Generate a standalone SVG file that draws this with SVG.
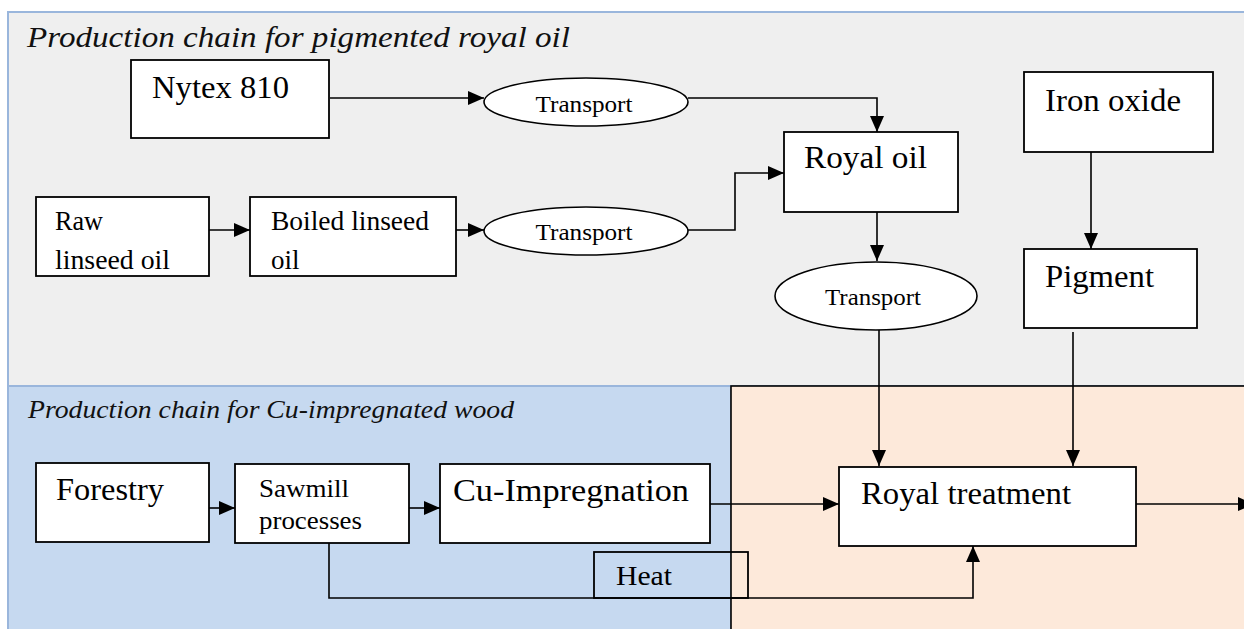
<svg xmlns="http://www.w3.org/2000/svg" width="1244" height="629" viewBox="0 0 1244 629">
<style>
.box{fill:#ffffff;stroke:#000;stroke-width:1.8}
.ell{fill:#ffffff;stroke:#000;stroke-width:1.6}
.t{font-family:"Liberation Serif","Times New Roman",serif;fill:#000}
.big{font-size:31px}
.mid{font-size:27px}
.sm{font-size:25px}
.tr{font-size:23px;text-anchor:middle}
.title{font-family:"Liberation Serif","Times New Roman",serif;font-style:italic;fill:#111}
.conn{fill:none;stroke:#000;stroke-width:1.6;marker-end:url(#ah)}
</style>
<defs>
<marker id="ah" markerUnits="userSpaceOnUse" markerWidth="16" markerHeight="14" refX="16" refY="7" orient="auto">
<path d="M0,0 L16,7 L0,14 z" fill="#000"/>
</marker>
</defs>

<g id="panels">
<rect id="panel-royal-oil" x="8" y="12" width="1245" height="374" fill="#efefef" stroke="#9ab6dc" stroke-width="2"/>
<rect id="panel-wood" x="8" y="386" width="723" height="250" fill="#c6d9f0" stroke="#9ab6dc" stroke-width="2"/>
<rect id="panel-treatment" x="731" y="386" width="520" height="250" fill="#fde9da" stroke="#000" stroke-width="1.6"/>
<text class="title" x="27" y="47" font-size="29" textLength="543" lengthAdjust="spacingAndGlyphs">Production chain for pigmented royal oil</text>
<text class="title" x="28" y="418" font-size="25" textLength="486" lengthAdjust="spacingAndGlyphs">Production chain for Cu-impregnated wood</text>
</g>

<g id="connectors">
<path class="conn" d="M330,98 H484"/>
<path class="conn" d="M688,98 H877 V132"/>
<path class="conn" d="M209,230 H250"/>
<path class="conn" d="M456,230 H484"/>
<path class="conn" d="M688,230 H735 V173 H784"/>
<path class="conn" d="M877,212 V261"/>
<path class="conn" d="M1091,152 V249"/>
<path class="conn" d="M879,330 V466"/>
<path class="conn" d="M1073,332 V466"/>
<path class="conn" d="M209,508 H235"/>
<path class="conn" d="M409,508 H440"/>
<path class="conn" d="M710,504 H839"/>
<path class="conn" d="M1136,504 H1254"/>
<path class="conn" d="M329,543 V598 H973 V546"/>
</g>

<g id="nytex">
<rect class="box" x="131" y="60" width="198" height="78"/>
<text class="t big" x="152" y="98" textLength="137" lengthAdjust="spacingAndGlyphs">Nytex 810</text>
</g>
<g id="transport1">
<ellipse class="ell" cx="586" cy="102" rx="102" ry="24"/>
<text class="t tr" x="584" y="112" textLength="97" lengthAdjust="spacingAndGlyphs">Transport</text>
</g>
<g id="royal-oil">
<rect class="box" x="784" y="132" width="174" height="80"/>
<text class="t big" x="804" y="168" textLength="123" lengthAdjust="spacingAndGlyphs">Royal oil</text>
</g>
<g id="iron-oxide">
<rect class="box" x="1024" y="72" width="189" height="80"/>
<text class="t big" x="1045" y="111" textLength="136" lengthAdjust="spacingAndGlyphs">Iron oxide</text>
</g>
<g id="raw-linseed">
<rect class="box" x="36" y="197" width="173" height="79"/>
<text class="t mid" x="55" y="230" textLength="48" lengthAdjust="spacingAndGlyphs">Raw</text>
<text class="t mid" x="55" y="269" textLength="115" lengthAdjust="spacingAndGlyphs">linseed oil</text>
</g>
<g id="boiled-linseed">
<rect class="box" x="250" y="197" width="206" height="79"/>
<text class="t mid" x="271" y="230" textLength="158" lengthAdjust="spacingAndGlyphs">Boiled linseed</text>
<text class="t mid" x="271" y="269">oil</text>
</g>
<g id="transport2">
<ellipse class="ell" cx="586" cy="231" rx="102" ry="24"/>
<text class="t tr" x="584" y="240" textLength="97" lengthAdjust="spacingAndGlyphs">Transport</text>
</g>
<g id="transport3">
<ellipse class="ell" cx="876" cy="296" rx="101" ry="34"/>
<text class="t tr" x="873" y="305" textLength="96" lengthAdjust="spacingAndGlyphs">Transport</text>
</g>
<g id="pigment">
<rect class="box" x="1024" y="249" width="173" height="79"/>
<text class="t big" x="1045" y="287" textLength="109" lengthAdjust="spacingAndGlyphs">Pigment</text>
</g>
<g id="forestry">
<rect class="box" x="36" y="463" width="173" height="79"/>
<text class="t big" x="56" y="500" textLength="108" lengthAdjust="spacingAndGlyphs">Forestry</text>
</g>
<g id="sawmill">
<rect class="box" x="235" y="464" width="174" height="79"/>
<text class="t sm" x="259" y="497" textLength="90" lengthAdjust="spacingAndGlyphs">Sawmill</text>
<text class="t sm" x="259" y="529" textLength="103" lengthAdjust="spacingAndGlyphs">processes</text>
</g>
<g id="cu-impregnation">
<rect class="box" x="440" y="464" width="270" height="79"/>
<text class="t big" x="453" y="501" textLength="236" lengthAdjust="spacingAndGlyphs">Cu-Impregnation</text>
</g>
<g id="royal-treatment">
<rect class="box" x="839" y="467" width="297" height="79"/>
<text class="t big" x="861" y="504" textLength="210" lengthAdjust="spacingAndGlyphs">Royal treatment</text>
</g>
<g id="heat">
<rect x="594" y="552" width="154" height="46" fill="none" stroke="#000" stroke-width="1.8"/>
<text class="t" x="616" y="585" font-size="28" textLength="56" lengthAdjust="spacingAndGlyphs">Heat</text>
</g>
</svg>
